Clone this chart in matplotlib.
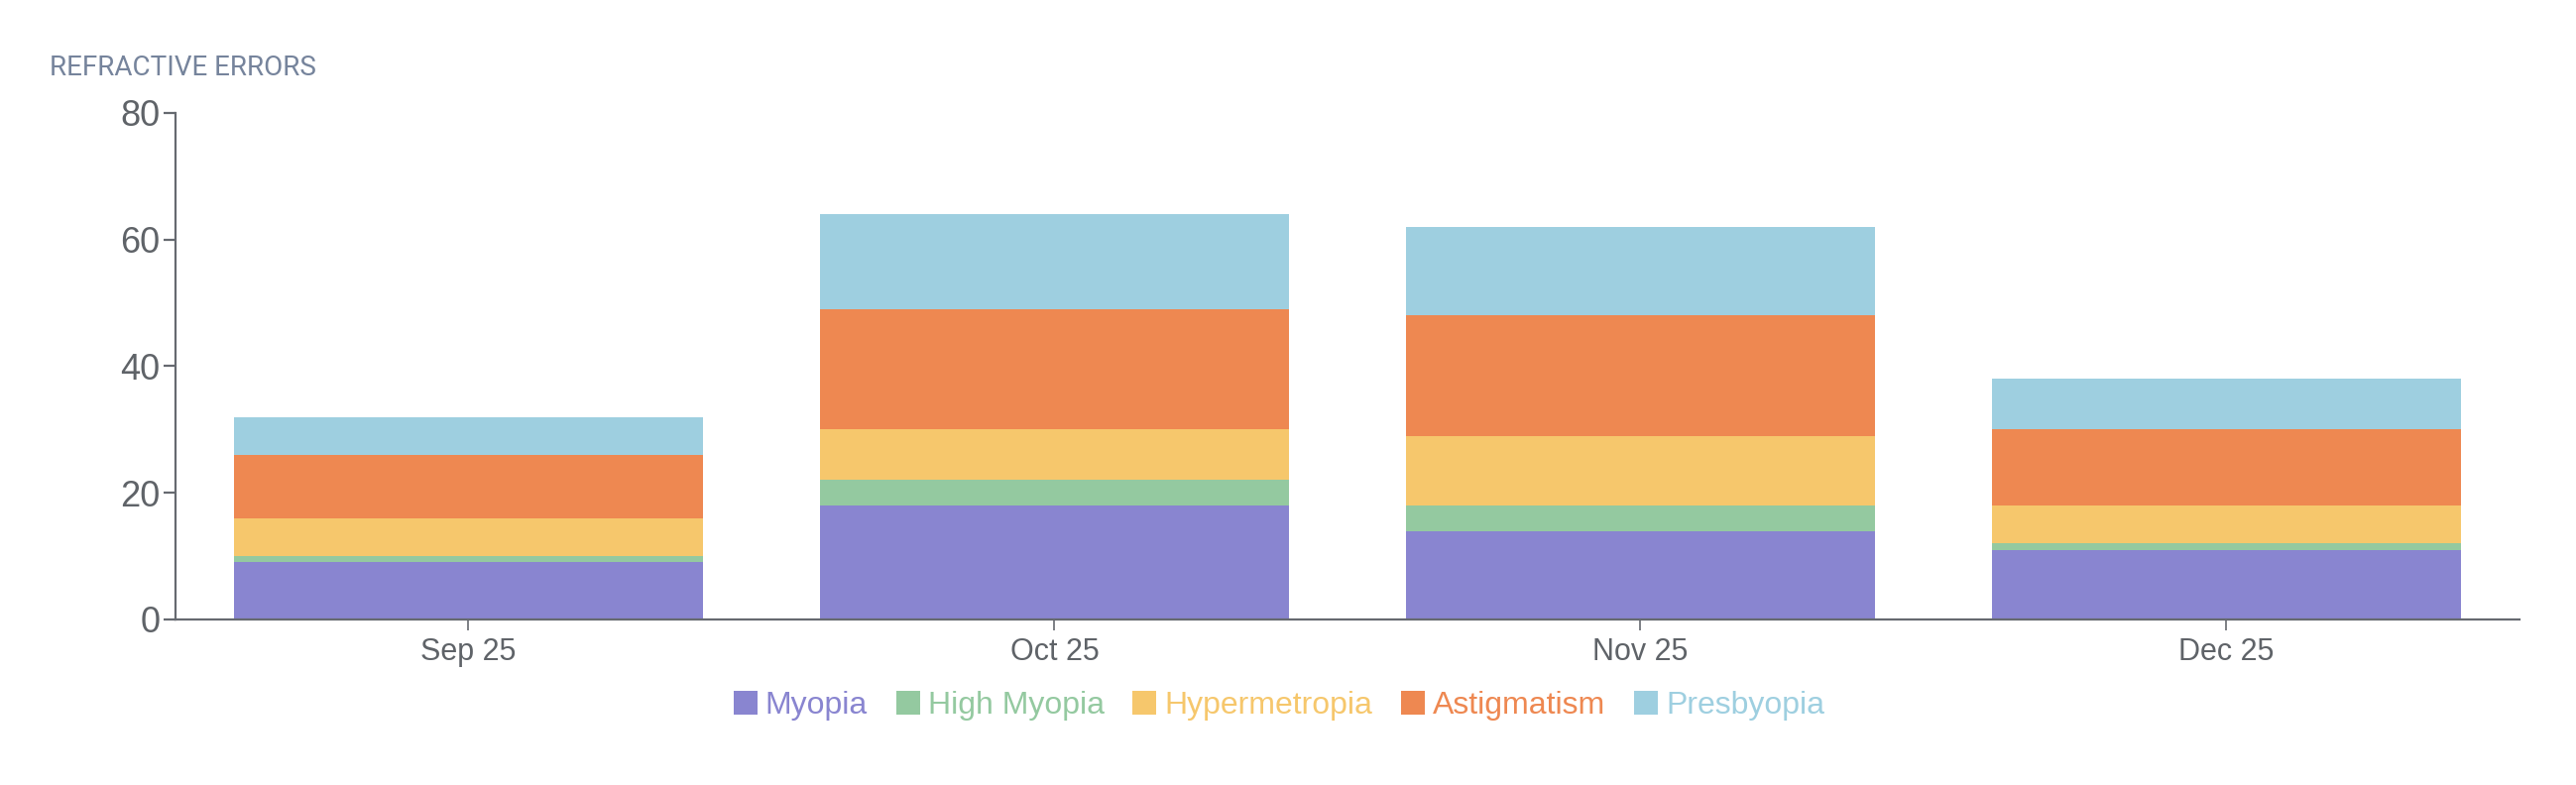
import matplotlib
matplotlib.use("Agg")
from matplotlib import pyplot as plt
import numpy as np

# data
months = ["Sep 25", "Oct 25", "Nov 25", "Dec 25"]
series_names = ["Myopia", "High Myopia", "Hypermetropia", "Astigmatism", "Presbyopia"]
myopia = [9, 18, 14, 11]
high_myopia = [1, 4, 4, 1]
hypermetropia = [6, 8, 11, 6]
astigmatism = [10, 19, 19, 12]
presbyopia = [6, 15, 14, 8]
y_ticks = [0, 20, 40, 60, 80]

colors = ["#8985d0", "#94c9a0", "#f6c76c", "#ee8851", "#9ecfe0"]
axis_col = "#666a70"

plt.rcParams["font.family"] = ["Liberation Sans", "DejaVu Sans"]

fig = plt.figure(figsize=(25.98, 7.92), dpi=100)
ax = fig.add_axes([0.0681, 0.2109, 0.9099, 0.6452])

x = np.arange(len(months))
bottom = np.zeros(len(months))
handles = []
for name, vals, col in zip(series_names,
                           [myopia, high_myopia, hypermetropia, astigmatism, presbyopia],
                           colors):
    b = ax.bar(x, vals, width=0.8, bottom=bottom, color=col, linewidth=0, label=name)
    handles.append(b)
    bottom += np.array(vals)

ax.set_xlim(-0.5, len(months) - 0.5)
ax.set_ylim(0, 80)
ax.set_yticks(y_ticks)
ax.set_xticks(x)
ax.set_xticklabels(months)

for s in ["top", "right"]:
    ax.spines[s].set_visible(False)
for s in ["left", "bottom"]:
    ax.spines[s].set_color(axis_col)
    ax.spines[s].set_linewidth(1.6)
ax.tick_params(axis="y", length=9, width=1.6, color=axis_col, labelcolor="#5f6368",
               labelsize=26, pad=2)
ax.tick_params(axis="x", length=8, width=1.2, color=axis_col, labelcolor="#5f6368",
               labelsize=22, pad=5)

fig.text(0.0192, 0.914, "REFRACTIVE ERRORS", fontsize=20, color="#76849c",
         ha="left", va="center", family=["Roboto", "DejaVu Sans"])

leg = fig.legend(handles=handles, loc="center", bbox_to_anchor=(0.4965, 0.101),
                 ncol=5, frameon=False, fontsize=23, handlelength=0.75,
                 handleheight=0.75, handletextpad=0.25, columnspacing=0.9)
for t, col in zip(leg.get_texts(), colors):
    t.set_color(col)

fig.savefig("out.png", dpi=100)
